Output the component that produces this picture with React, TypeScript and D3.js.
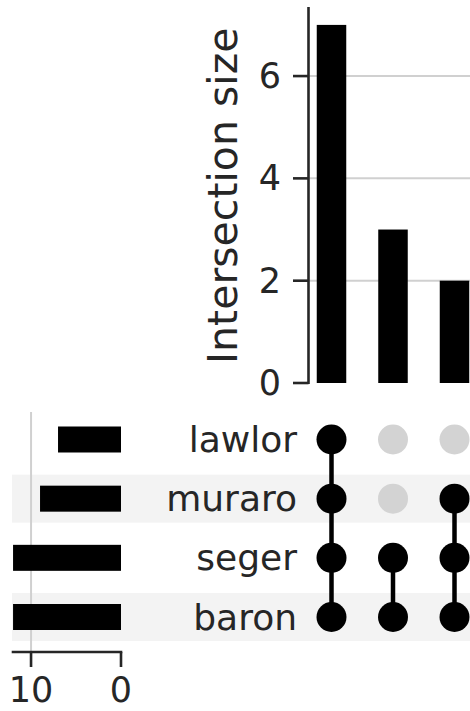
import React from "react";
import * as d3 from "d3";

// Sets (rows of the matrix), top to bottom
const categories = ["lawlor", "muraro", "seger", "baron"];
// Size of each set (horizontal totals bars)
const setTotals = [7, 9, 12, 12];
// Intersection sizes (vertical bars)
const intersectionSizes = [7, 3, 2];
// Membership of each intersection
const intersectionMembers = [
  ["lawlor", "muraro", "seger", "baron"],
  ["seger", "baron"],
  ["muraro", "seger", "baron"],
];
const sizeTicks = [0, 2, 4, 6];
const totalTicks = [10, 0];

const W = 470;
const H = 711;
const FONT = "DejaVu Sans, sans-serif";
const TEXT = "#262626";

export default function App() {
  const cols = intersectionSizes.map((_, i) => String(i));
  const xCol = d3.scalePoint<string>().domain(cols).range([331.5, 454.5]);
  const barW = 29.5;

  const yTop = d3.scaleLinear().domain([0, 7.35]).range([383, 7]);
  const yRow = d3.scalePoint<string>().domain(categories).range([439.5, 617]);
  const xTot = d3.scaleLinear().domain([0, 12.15]).range([121, 11.7]);

  const dotR = 15;
  const shaded = categories.filter((_, i) => i % 2 === 1);

  return (
    <svg
      width={W}
      height={H}
      style={{ position: "absolute", left: 0, top: 0, background: "#fff" }}
      fontFamily={FONT}
    >
      {/* alternating row shading */}
      {shaded.map((c) => (
        <rect
          key={c}
          x={12}
          y={(yRow(c) as number) - 24}
          width={W - 12}
          height={48}
          fill="#f3f3f3"
        />
      ))}

      {/* intersection size panel */}
      <g>
        {sizeTicks
          .filter((t) => t > 0)
          .map((t) => (
            <line
              key={t}
              x1={308.5}
              x2={W}
              y1={yTop(t)}
              y2={yTop(t)}
              stroke="#d0d0d0"
              strokeWidth={2}
            />
          ))}
        {intersectionSizes.map((v, i) => (
          <rect
            key={i}
            x={(xCol(String(i)) as number) - barW / 2}
            y={yTop(v)}
            width={barW}
            height={yTop(0) - yTop(v)}
            fill="#000"
          />
        ))}
        <line
          x1={308.5}
          x2={308.5}
          y1={yTop(7.35)}
          y2={yTop(0) + 1}
          stroke={TEXT}
          strokeWidth={2.6}
        />
        {sizeTicks.map((t) => (
          <g key={t}>
            <line
              x1={293}
              x2={308.5}
              y1={yTop(t)}
              y2={yTop(t)}
              stroke={TEXT}
              strokeWidth={2.6}
            />
            <text
              x={281}
              y={yTop(t)}
              textAnchor="end"
              dominantBaseline="central"
              fontSize={35}
              fill={TEXT}
            >
              {t}
            </text>
          </g>
        ))}
        <text
          transform={`translate(223, ${yTop(3.66)}) rotate(-90)`}
          textAnchor="middle"
          dominantBaseline="central"
          fontSize={41}
          fill={TEXT}
        >
          Intersection size
        </text>
      </g>

      {/* set totals panel */}
      <g>
        <line
          x1={xTot(10)}
          x2={xTot(10)}
          y1={412}
          y2={652}
          stroke="#d0d0d0"
          strokeWidth={2}
        />
        {categories.map((c, i) => (
          <rect
            key={c}
            x={xTot(setTotals[i])}
            y={(yRow(c) as number) - 13}
            width={xTot(0) - xTot(setTotals[i])}
            height={26}
            fill="#000"
          />
        ))}
        <line
          x1={xTot(12.15)}
          x2={xTot(0) + 1.3}
          y1={652}
          y2={652}
          stroke={TEXT}
          strokeWidth={2.6}
        />
        {totalTicks.map((t) => (
          <g key={t}>
            <line
              x1={xTot(t)}
              x2={xTot(t)}
              y1={652}
              y2={667}
              stroke={TEXT}
              strokeWidth={2.6}
            />
            <text
              x={xTot(t)}
              y={702}
              textAnchor="middle"
              fontSize={35}
              fill={TEXT}
            >
              {t}
            </text>
          </g>
        ))}
      </g>

      {/* row labels */}
      {categories.map((c) => (
        <text
          key={c}
          x={297}
          y={yRow(c) as number}
          textAnchor="end"
          dominantBaseline="central"
          fontSize={36}
          fill={TEXT}
        >
          {c}
        </text>
      ))}

      {/* membership matrix */}
      <g>
        {intersectionMembers.map((members, i) => {
          const cx = xCol(String(i)) as number;
          const ys = members.map((m) => yRow(m) as number);
          return (
            <g key={i}>
              {categories
                .filter((c) => !members.includes(c))
                .map((c) => (
                  <circle key={c} cx={cx} cy={yRow(c) as number} r={dotR} fill="#d3d3d3" />
                ))}
              <line
                x1={cx}
                x2={cx}
                y1={d3.min(ys) as number}
                y2={d3.max(ys) as number}
                stroke="#000"
                strokeWidth={4.5}
              />
              {members.map((m) => (
                <circle key={m} cx={cx} cy={yRow(m) as number} r={dotR} fill="#000" />
              ))}
            </g>
          );
        })}
      </g>
    </svg>
  );
}
